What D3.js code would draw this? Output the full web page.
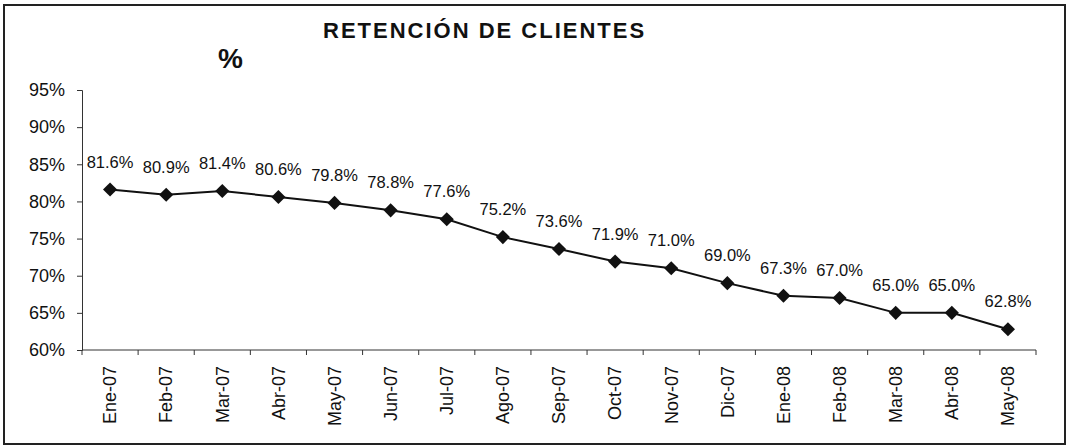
<!DOCTYPE html>
<html>
<head>
<meta charset="utf-8">
<script src="https://cdn.jsdelivr.net/npm/d3@7"></script>
<style>
  body { margin: 0; background: #fff; }
  text { font-family: Arial, "Liberation Sans", sans-serif; fill: #111; }
</style>
</head>
<body>
<div id="graph"></div>
<script>
var months = ["Ene-07", "Feb-07", "Mar-07", "Abr-07", "May-07", "Jun-07", "Jul-07", "Ago-07", "Sep-07",
	"Oct-07", "Nov-07", "Dic-07", "Ene-08", "Feb-08", "Mar-08", "Abr-08", "May-08"];
var retention = [81.6, 80.9, 81.4, 80.6, 79.8, 78.8, 77.6, 75.2, 73.6, 71.9, 71.0, 69.0, 67.3, 67.0, 65.0, 65.0, 62.8];
var yTicks = [60, 65, 70, 75, 80, 85, 90, 95];

var chartW = 1069, chartH = 447;
var pLeft = 82, pRight = 1036, pTop = 90, pBottom = 350;

var svg = d3.select("#graph")
	.append("svg")
	.attr("width", chartW)
	.attr("height", chartH);

// outer frame
svg.append("rect")
	.attr("x", 4).attr("y", 5)
	.attr("width", 1061).attr("height", 439)
	.attr("fill", "none")
	.attr("stroke", "#222")
	.attr("stroke-width", 2);

var x = d3.scaleBand().domain(months).range([pLeft, pRight]);
var y = d3.scaleLinear().domain([60, 95]).range([pBottom, pTop]);

// title
svg.append("text")
	.attr("x", 323).attr("y", 38)
	.attr("font-size", 22)
	.attr("font-weight", "bold")
	.attr("letter-spacing", 2)
	.text("RETENCIÓN DE CLIENTES");

svg.append("text")
	.attr("x", 218).attr("y", 68)
	.attr("font-size", 28)
	.attr("font-weight", "bold")
	.text("%");

// y axis
var yAxis = svg.append("g")
	.attr("transform", "translate(" + pLeft + ",0)")
	.call(d3.axisLeft(y).tickValues(yTicks).tickSize(5).tickPadding(12)
		.tickFormat(function (d) { return d + "%"; }));
yAxis.selectAll("text").attr("font-size", 18).attr("font-family", "Arial, 'Liberation Sans', sans-serif").attr("fill", "#111");
yAxis.selectAll("line, path").attr("stroke", "#333");

// x axis: labels centred on bands, ticks on band edges
var xAxis = svg.append("g")
	.attr("transform", "translate(0," + pBottom + ")")
	.call(d3.axisBottom(x).tickSize(0).tickPadding(0));
xAxis.select(".domain").attr("stroke", "#333").attr("d", "M" + pLeft + ",0H" + pRight);
xAxis.selectAll("text")
	.attr("font-size", 18)
	.attr("font-family", "Arial, 'Liberation Sans', sans-serif")
	.attr("fill", "#111")
	.attr("text-anchor", "end")
	.attr("dy", "0.35em")
	.attr("transform", "translate(0,16) rotate(-90)")
	.attr("x", 0).attr("y", 0);

svg.selectAll(".xtick")
	.data(d3.range(months.length + 1))
	.enter()
	.append("line")
	.attr("class", "xtick")
	.attr("x1", function (i) { return pLeft + i * x.step(); })
	.attr("x2", function (i) { return pLeft + i * x.step(); })
	.attr("y1", pBottom)
	.attr("y2", pBottom + 5)
	.attr("stroke", "#333");

var cx = function (d, i) { return x(months[i]) + x.bandwidth() / 2; };

// line
var line = d3.line()
	.x(function (d, i) { return cx(d, i); })
	.y(function (d) { return y(d); });

svg.append("path")
	.datum(retention)
	.attr("d", line)
	.attr("fill", "none")
	.attr("stroke", "#111")
	.attr("stroke-width", 2);

// markers
svg.selectAll(".pt")
	.data(retention)
	.enter()
	.append("path")
	.attr("class", "pt")
	.attr("d", d3.symbol().type(d3.symbolSquare).size(100))
	.attr("transform", function (d, i) { return "translate(" + cx(d, i) + "," + y(d) + ") rotate(45)"; })
	.attr("fill", "#111");

// value labels
svg.selectAll(".lbl")
	.data(retention)
	.enter()
	.append("text")
	.attr("class", "lbl")
	.attr("x", function (d, i) { return cx(d, i); })
	.attr("y", function (d) { return y(d) - 22; })
	.attr("text-anchor", "middle")
	.attr("font-size", 16.5)
	.text(function (d) { return d.toFixed(1) + "%"; });
</script>
</body>
</html>
